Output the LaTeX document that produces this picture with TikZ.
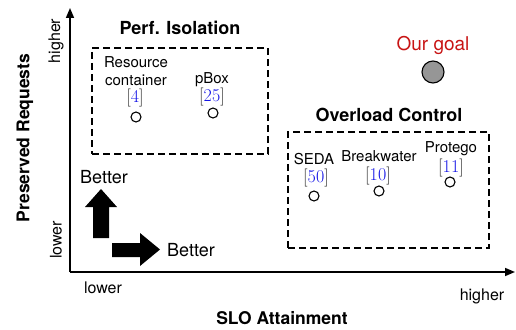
\documentclass[tikz,border=0pt]{standalone}
\usepackage{fontspec}
\setsansfont{TeX Gyre Heros}
\usetikzlibrary{arrows.meta}
\definecolor{citeblue}{RGB}{20,20,230}
\definecolor{goalred}{RGB}{200,20,20}
\definecolor{goalgray}{RGB}{150,150,150}
\tikzset{
  axis/.style={line width=1.5pt,-{Triangle[length=10pt,width=8pt]}},
  group/.style={draw,line width=1.5pt,dash pattern=on 7pt off 4pt,minimum width=#1},
  head/.style={font=\sffamily\bfseries\fontsize{18}{20}\selectfont,inner sep=0pt},
  title/.style={font=\sffamily\bfseries\fontsize{17.5}{20}\selectfont,inner sep=0pt},
  lbl/.style={font=\sffamily\fontsize{15}{18}\selectfont,inner sep=0pt,align=center},
  tick/.style={font=\sffamily\fontsize{16}{18}\selectfont,inner sep=0pt},
  cite/.style={font=\rmfamily\fontsize{18}{20}\selectfont,inner sep=0pt,text=black!85},
  pt/.style={circle,draw,line width=1.1pt,minimum size=10pt,inner sep=0pt},
}
\newcommand{\citeno}[1]{[\textcolor{citeblue}{#1}]}
\begin{document}
\begin{tikzpicture}[x=1pt,y=-1pt]
   \useasboundingbox (0,0) rectangle (516,329);
   % axes
   \coordinate (origin) at (70,272);
   \coordinate (ytop) at (70,8);
   \coordinate (xend) at (515,272);
   \draw[axis] (origin) -- (ytop);
   \draw[axis] (origin) -- (xend);
   \node[tick,rotate=90] (yhigh) at (56,41) {higher};
   \node[tick,rotate=90] (ylow) at (56,240) {lower};
   \node[tick] (xlow) at (103,288) {lower};
   \node[tick] (xhigh) at (482,296) {higher};
   \node[title,rotate=90] (ytitle) at (25,138) {Preserved Requests};
   \node[title] (xtitle) at (282,318) {SLO Attainment};

   % perf. isolation
   \node[head] (perf) at (180,28) {Perf. Isolation};
   \node[group=176pt,minimum height=106pt] (perfbox) at (180,101) {};
   \node[lbl,anchor=base] (rc) at (136,85) {Resource\\container};
   \node[cite,anchor=base] (rcref) at (135,102) {\citeno{4}};
   \node[pt] (rcpt) at (136,117) {};
   \node[lbl,anchor=base] (pbox) at (212,83) {pBox};
   \node[cite,anchor=base] (pboxref) at (212,101) {\citeno{25}};
   \node[pt] (pboxpt) at (213,113) {};

   % overload control
   \node[head] (ovl) at (389,115) {Overload Control};
   \node[group=201pt,minimum height=116pt] (ovlbox) at (388.5,190) {};
   \node[lbl,anchor=base] (seda) at (314,164) {SEDA};
   \node[cite,anchor=base] (sedaref) at (316,182) {\citeno{50}};
   \node[pt] (sedapt) at (314,196) {};
   \node[lbl,anchor=base] (bw) at (379,161) {Breakwater};
   \node[cite,anchor=base] (bwref) at (378,180) {\citeno{10}};
   \node[pt] (bwpt) at (379,191) {};
   \node[lbl,anchor=base] (prot) at (451,152) {Protego};
   \node[cite,anchor=base] (protref) at (451,172) {\citeno{11}};
   \node[pt] (protpt) at (450,182) {};

   % goal
   \node[font=\sffamily\fontsize{19}{20}\selectfont,text=goalred,inner sep=0pt] (goal) at (433,45) {Our goal};
   \node[circle,draw,line width=1.1pt,fill=goalgray,minimum size=22pt,inner sep=0pt] (goalpt) at (433,72) {};

   % better arrows
   \node[tick,font=\sffamily\fontsize{18}{20}\selectfont] (betterup) at (104,177) {Better};
   \node[tick,font=\sffamily\fontsize{18}{20}\selectfont] (betterright) at (191,250) {Better};
   \fill (93,238) -- (109,238) -- (109,207) -- (117,207) -- (101,189)
         -- (85,207) -- (93,207) -- cycle;
   \fill (112,243) -- (140,243) -- (140,233) -- (160,249.5) -- (140,266)
         -- (140,257) -- (112,257) -- cycle;
\end{tikzpicture}
\end{document}
